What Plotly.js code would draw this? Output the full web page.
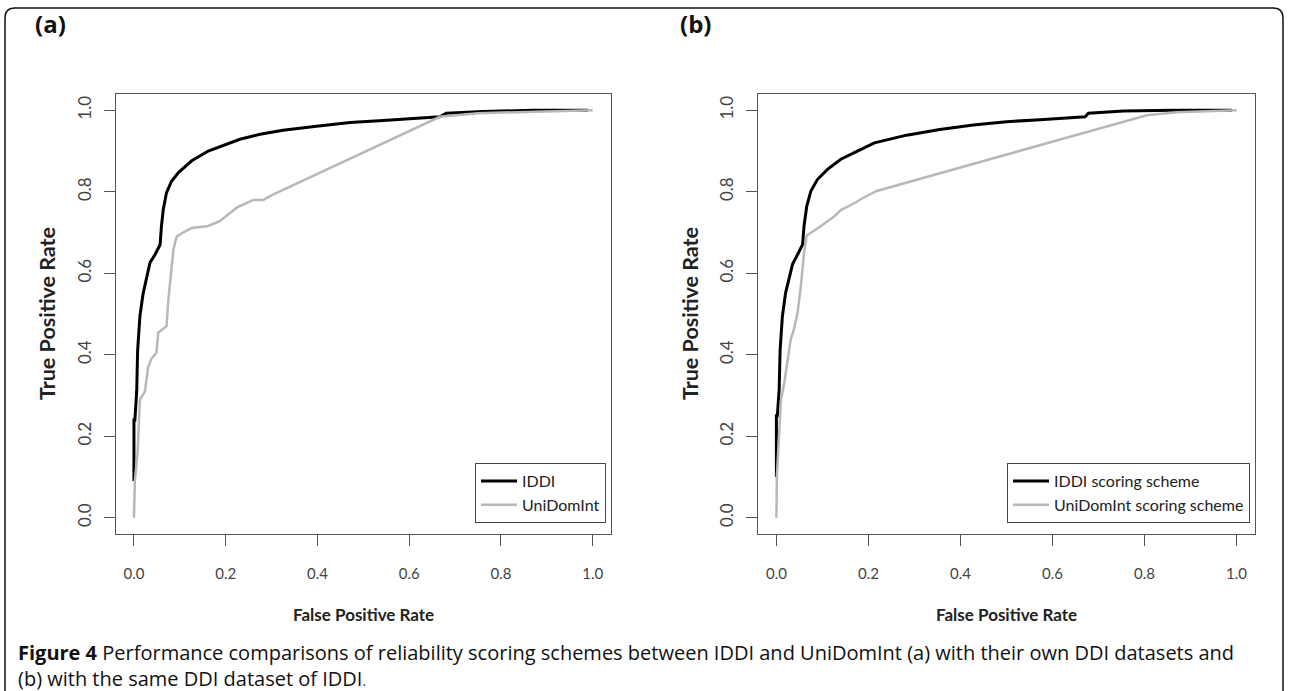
<!DOCTYPE html>
<html>
<head>
<meta charset="utf-8">
<script src="https://cdn.plot.ly/plotly-3.0.1.min.js"></script>
<style>
html,body{margin:0;padding:0;background:#fff;}
#chart{width:1289px;height:691px;}
</style>
</head>
<body>
<div id="chart"></div>
<script>
// ---- data ----
const tickVals = [0, 0.2, 0.4, 0.6, 0.8, 1.0];
const tickText = ["0.0", "0.2", "0.4", "0.6", "0.8", "1.0"];

// panel (a)
const iddiA_fpr = [0, 0, 0.002, 0.006, 0.008, 0.013, 0.02, 0.028, 0.035, 0.046, 0.057, 0.06, 0.064, 0.071, 0.082, 0.097, 0.126, 0.162, 0.198, 0.231, 0.275, 0.325, 0.398, 0.471, 0.543, 0.616, 0.667, 0.681, 0.761, 0.87, 0.99];
const iddiA_tpr = [0.09, 0.24, 0.24, 0.31, 0.41, 0.495, 0.55, 0.593, 0.626, 0.646, 0.67, 0.716, 0.757, 0.798, 0.826, 0.847, 0.876, 0.9, 0.916, 0.929, 0.941, 0.951, 0.961, 0.97, 0.975, 0.98, 0.984, 0.993, 0.997, 1.0, 1.0];
const uniA_fpr = [0, 0.002, 0.008, 0.013, 0.024, 0.031, 0.038, 0.049, 0.053, 0.071, 0.075, 0.086, 0.093, 0.107, 0.126, 0.162, 0.187, 0.224, 0.26, 0.282, 0.303, 0.667, 0.75, 0.87, 1.0];
const uniA_tpr = [0, 0.09, 0.16, 0.29, 0.31, 0.37, 0.39, 0.405, 0.454, 0.47, 0.535, 0.658, 0.69, 0.70, 0.711, 0.716, 0.728, 0.761, 0.78, 0.78, 0.793, 0.984, 0.993, 0.997, 1.0];

// panel (b)
const iddiB_fpr = [0, 0, 0.002, 0.006, 0.008, 0.013, 0.02, 0.028, 0.035, 0.046, 0.057, 0.06, 0.066, 0.075, 0.089, 0.111, 0.14, 0.176, 0.213, 0.283, 0.355, 0.428, 0.5, 0.573, 0.617, 0.671, 0.678, 0.754, 0.863, 0.99];
const iddiB_tpr = [0.10, 0.25, 0.25, 0.315, 0.41, 0.495, 0.552, 0.593, 0.622, 0.646, 0.671, 0.716, 0.765, 0.802, 0.83, 0.855, 0.88, 0.9, 0.92, 0.939, 0.953, 0.964, 0.972, 0.977, 0.98, 0.984, 0.993, 0.998, 1.0, 1.0];
const uniB_fpr = [0, 0.001, 0.006, 0.01, 0.017, 0.024, 0.031, 0.038, 0.046, 0.053, 0.06, 0.066, 0.082, 0.097, 0.126, 0.14, 0.166, 0.19, 0.218, 0.805, 0.87, 1.0];
const uniB_tpr = [0, 0.10, 0.208, 0.29, 0.33, 0.38, 0.437, 0.462, 0.503, 0.568, 0.65, 0.693, 0.704, 0.716, 0.74, 0.755, 0.77, 0.786, 0.802, 0.988, 0.995, 1.0];

const namesA = ["IDDI", "UniDomInt"];
const namesB = ["IDDI scoring scheme", "UniDomInt scoring scheme"];
const panelLabels = ["(a)", "(b)"];
const xTitle = "False Positive Rate";
const yTitle = "True Positive Rate";
const captionBold = "Figure 4";
const captionLine1 = " Performance comparisons of reliability scoring schemes between IDDI and UniDomInt (a) with their own DDI datasets and";
const captionLine2 = "(b) with the same DDI dataset of IDDI";

// ---- layout helpers (pixel -> paper) ----
const W = 1289, H = 691;
const px = v => v / W;
const py = v => 1 - v / H;

const FONT = "Lato, 'Open Sans', sans-serif";
const CAPFONT = "'Open Sans', Lato, sans-serif";
const black = "#000000", gray = "#b8b8b8";

const traces = [
  {x: iddiA_fpr, y: iddiA_tpr, xaxis: "x", yaxis: "y", name: namesA[0], legend: "legend",
   mode: "lines", line: {color: black, width: 3}},
  {x: uniA_fpr, y: uniA_tpr, xaxis: "x", yaxis: "y", name: namesA[1], legend: "legend",
   mode: "lines", line: {color: gray, width: 2.5}},
  {x: iddiB_fpr, y: iddiB_tpr, xaxis: "x2", yaxis: "y2", name: namesB[0], legend: "legend2",
   mode: "lines", line: {color: black, width: 3}},
  {x: uniB_fpr, y: uniB_tpr, xaxis: "x2", yaxis: "y2", name: namesB[1], legend: "legend2",
   mode: "lines", line: {color: gray, width: 2.5}}
];

function xAx(dom, anchor) {
  return {domain: dom, anchor: anchor, range: [-0.04, 1.04], showgrid: false, zeroline: false,
    showline: true, mirror: true, linecolor: "#555", linewidth: 1,
    ticks: "outside", ticklen: 11, tickcolor: "#555", tickwidth: 1,
    tickvals: tickVals, ticktext: tickText, ticklabelstandoff: 15,
    tickfont: {family: FONT, size: 15, color: "#444"}};
}
function yAx(dom, anchor) {
  return {domain: dom, anchor: anchor, range: [-0.04, 1.04], showgrid: false, zeroline: false,
    showline: true, mirror: true, linecolor: "#555", linewidth: 1,
    ticks: "outside", ticklen: 11, tickcolor: "#555", tickwidth: 1,
    tickvals: tickVals, ticktext: tickText, tickangle: -90, ticklabelstandoff: 6,
    tickfont: {family: FONT, size: 17, color: "#444"}};
}

const yDom = [py(534), py(94)];
const legendCommon = {bordercolor: "#444", borderwidth: 1, bgcolor: "#fff",
  font: {family: FONT, size: 16, color: "#222"}, xanchor: "right", yanchor: "bottom",
  itemwidth: 36, tracegroupgap: 0};

// rounded figure border (open at the bottom)
const r = 10, L = 5, T = 8, R = 1283, B = 720;
const borderPath = `M ${px(L)},${py(B)} L ${px(L)},${py(T + r)} Q ${px(L)},${py(T)} ${px(L + r)},${py(T)} ` +
  `L ${px(R - r)},${py(T)} Q ${px(R)},${py(T)} ${px(R)},${py(T + r)} L ${px(R)},${py(B)}`;

const layout = {
  width: W, height: H, margin: {l: 0, r: 0, t: 0, b: 0},
  paper_bgcolor: "#fff", plot_bgcolor: "#fff",
  font: {family: FONT},
  xaxis: xAx([px(115.6), px(611)], "y"),
  yaxis: yAx(yDom, "x"),
  xaxis2: xAx([px(758), px(1255)], "y2"),
  yaxis2: yAx(yDom, "x2"),
  legend: Object.assign({}, legendCommon, {x: px(606), y: py(523)}),
  legend2: Object.assign({}, legendCommon, {x: px(1250), y: py(523)}),
  shapes: [
    {type: "path", xref: "paper", yref: "paper", path: borderPath, line: {color: "#111", width: 1.5}}
  ],
  annotations: [
    {text: "<b>" + panelLabels[0] + "</b>", xref: "paper", yref: "paper", x: px(33), y: py(23),
     xanchor: "left", yanchor: "middle", showarrow: false, font: {family: CAPFONT, size: 24, color: "#111"}},
    {text: "<b>" + panelLabels[1] + "</b>", xref: "paper", yref: "paper", x: px(678), y: py(23),
     xanchor: "left", yanchor: "middle", showarrow: false, font: {family: CAPFONT, size: 24, color: "#111"}},
    {text: "<b>" + xTitle + "</b>", xref: "x", yref: "paper", x: 0.5, y: py(614),
     xanchor: "center", yanchor: "middle", showarrow: false, font: {family: FONT, size: 17, color: "#222"}},
    {text: "<b>" + xTitle + "</b>", xref: "x2", yref: "paper", x: 0.5, y: py(614),
     xanchor: "center", yanchor: "middle", showarrow: false, font: {family: FONT, size: 17, color: "#222"}},
    {text: "<b>" + yTitle + "</b>", xref: "paper", yref: "y", x: px(47), y: 0.5, textangle: -90,
     xanchor: "center", yanchor: "middle", showarrow: false, font: {family: FONT, size: 21.5, color: "#222"}},
    {text: "<b>" + yTitle + "</b>", xref: "paper", yref: "y2", x: px(690), y: 0.5, textangle: -90,
     xanchor: "center", yanchor: "middle", showarrow: false, font: {family: FONT, size: 21.5, color: "#222"}},
    {text: "<b>" + captionBold + "</b>" + captionLine1 + "<br>" + captionLine2 + "<span style='font-size:13px'>.</span>",
     xref: "paper", yref: "paper", x: px(17), y: py(665), align: "left",
     xanchor: "left", yanchor: "middle", showarrow: false, borderpad: 0,
     font: {family: CAPFONT, size: 20, color: "#111"}}
  ],
  showlegend: true
};

Plotly.newPlot("chart", traces, layout, {displayModeBar: false, staticPlot: true});
</script>
</body>
</html>
